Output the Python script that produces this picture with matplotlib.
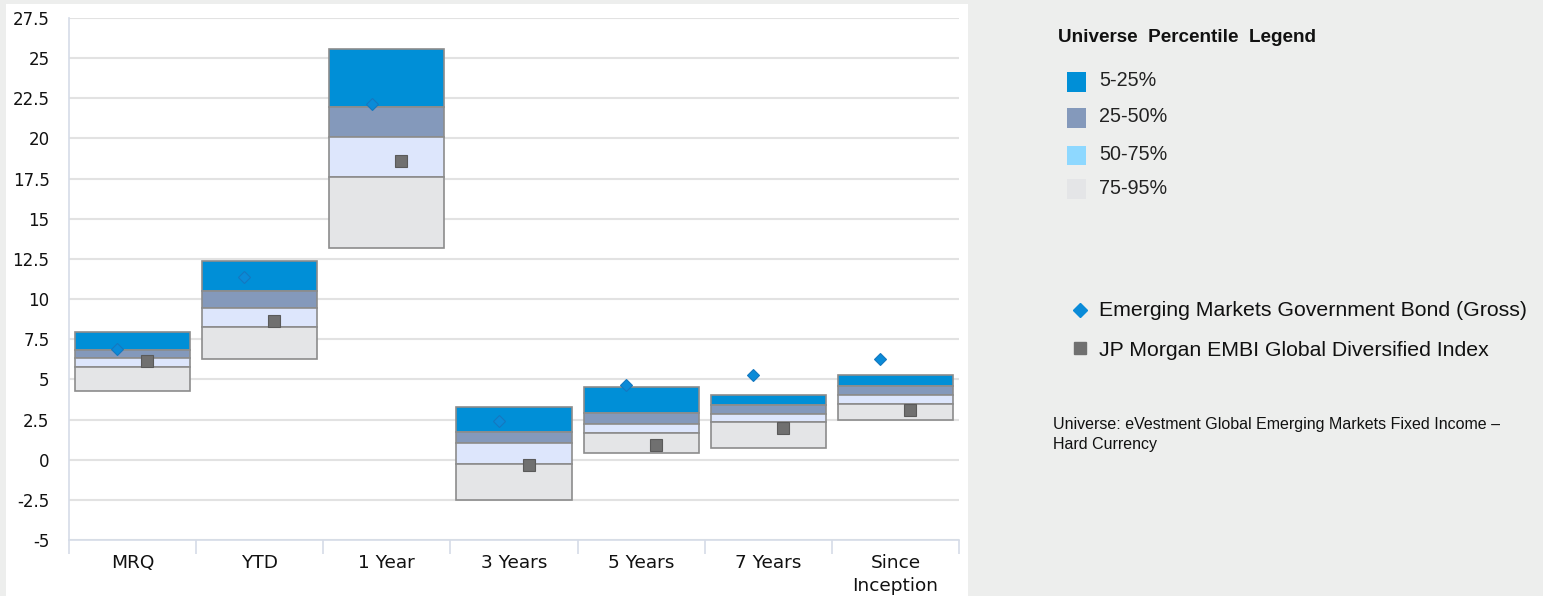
"""Universe percentile floating-box chart with fund and index markers."""
import matplotlib.pyplot as plt
from matplotlib.patches import Rectangle
from matplotlib.lines import Line2D

categories = ["MRQ", "YTD", "1 Year", "3 Years", "5 Years", "7 Years", "Since\nInception"]

# percentile boundaries of the universe (top of box = 5th percentile)
p5 = [7.97, 12.39, 25.55, 3.30, 4.51, 4.03, 5.26]
p25 = [6.81, 10.50, 21.94, 1.71, 2.93, 3.42, 4.59]
p50 = [6.35, 9.46, 20.09, 1.02, 2.24, 2.86, 4.03]
p75 = [5.79, 8.24, 17.58, -0.29, 1.64, 2.33, 3.49]
p95 = [4.26, 6.25, 13.16, -2.49, 0.44, 0.71, 2.47]

fund = [6.89, 11.36, 22.15, 2.43, 4.67, 5.26, 6.25]
index = [6.17, 8.66, 18.62, -0.35, 0.90, 1.99, 3.08]

yticks = [-5, -2.5, 0, 2.5, 5, 7.5, 10, 12.5, 15, 17.5, 20, 22.5, 25, 27.5]

band_labels = ["5-25%", "25-50%", "50-75%", "75-95%"]
band_colors = ["#008FD7", "#8499BB", "#DDE6FC", "#E4E5E7"]
legend_swatch = ["#008FD7", "#8499BB", "#8ED8FF", "#E4E5E7"]

W, H = 1543, 596
fig = plt.figure(figsize=(W / 100, H / 100), dpi=100, facecolor="#EDEEED")

# white chart panel, kept behind the axes
fig.patches.append(Rectangle((6 / W, 0), 962 / W, 592 / H, transform=fig.transFigure,
                             facecolor="white", edgecolor="none", zorder=-5))

ax = fig.add_axes([69 / W, 56 / H, 890 / W, 522 / H])
ax.set_facecolor("none")

x = list(range(len(categories)))
bands = [(p25, p5), (p50, p25), (p75, p50), (p95, p75)]
for (lo, hi), col in zip(bands, band_colors):
    ax.bar(x, [h - l for h, l in zip(hi, lo)], bottom=lo, width=0.905,
           color=col, edgecolor="#8C8C8C", linewidth=1.2, zorder=2)

# the two marker series sit slightly left / right of the category centre
ax.plot([i - 0.12 for i in x], fund, linestyle="none", marker="D", markersize=6,
        markerfacecolor="#0A8BD8", markeredgecolor="#1478C0", markeredgewidth=0.8, zorder=4)
ax.plot([i + 0.115 for i in x], index, linestyle="none", marker="s", markersize=8,
        markerfacecolor="#707070", markeredgecolor="#5A5A5A", markeredgewidth=0.8, zorder=4)

ax.set_xlim(-0.5, len(categories) - 0.5)
ax.set_ylim(-5, 27.5)
ax.set_yticks(yticks)
ax.set_yticklabels([f"{v:g}" for v in yticks], fontsize=12, family="DejaVu Sans")
ax.set_xticks(x)
ax.set_xticklabels(categories, fontsize=13.3, family="DejaVu Sans", linespacing=1.35)
ax.set_xticks([i - 0.5 for i in range(len(categories) + 1)], minor=True)
ax.tick_params(axis="x", which="major", length=0, pad=10, colors="#111111")
ax.tick_params(axis="x", which="minor", length=10, width=1.2, color="#D5DCE8")
ax.tick_params(axis="y", length=0, pad=14, colors="#111111")
ax.grid(axis="y", color="#E2E2E2", linewidth=1.5, zorder=0)
ax.set_axisbelow(True)
for side in ("top", "right"):
    ax.spines[side].set_visible(False)
for side in ("left", "bottom"):
    ax.spines[side].set_color("#D5DCE8")
    ax.spines[side].set_linewidth(1.2)


# legend panel (drawn by hand, figure pixel coords)
def fx(px):
    return px / W


def fy(py):
    return 1 - py / H


fig.text(fx(1058), fy(37), "Universe  Percentile  Legend", fontsize=13.6, fontweight="bold",
         family="Liberation Sans", va="center", ha="left", color="#111111")
for lab, col, yc in zip(band_labels, legend_swatch, [82, 118, 155, 189]):
    fig.patches.append(Rectangle((fx(1067), fy(yc + 9.5)), 19 / W, 19 / H,
                                 transform=fig.transFigure, facecolor=col, edgecolor="none"))
    fig.text(fx(1099), fy(yc - 1), lab, fontsize=14.2, family="Liberation Sans",
             va="center", ha="left", color="#222222")

fig.add_artist(Line2D([fx(1080)], [fy(310)], marker="D", markersize=7.5,
                      color="#0A8BD8", transform=fig.transFigure))
fig.text(fx(1099), fy(311), "Emerging Markets Government Bond (Gross)", fontsize=15.3,
         family="Liberation Sans", va="center", ha="left", color="#111111")
fig.add_artist(Line2D([fx(1080)], [fy(348)], marker="s", markersize=8,
                      color="#707070", transform=fig.transFigure))
fig.text(fx(1099), fy(351), "JP Morgan EMBI Global Diversified Index", fontsize=15.3,
         family="Liberation Sans", va="center", ha="left", color="#111111")

fig.text(fx(1053), fy(425), "Universe: eVestment Global Emerging Markets Fixed Income \u2013",
         fontsize=11.5, family="Liberation Sans", va="center", ha="left", color="#111111")
fig.text(fx(1053), fy(445), "Hard Currency", fontsize=11.5, family="Liberation Sans",
         va="center", ha="left", color="#111111")

fig.savefig("out.png", dpi=100, facecolor=fig.get_facecolor())
